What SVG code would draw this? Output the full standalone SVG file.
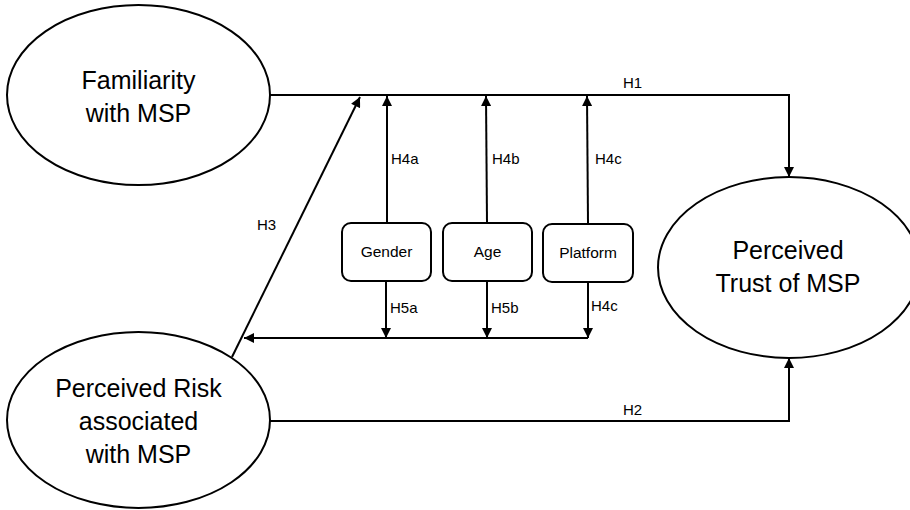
<svg xmlns="http://www.w3.org/2000/svg" width="910" height="510" viewBox="0 0 910 510">
<style>
  .shape { fill: #ffffff; stroke: #000000; stroke-width: 2; }
  .big { font-family: "Liberation Sans", Arial, sans-serif; font-size: 25px; fill: #000; text-anchor: middle; }
  .box { font-family: "Liberation Sans", Arial, sans-serif; font-size: 15.5px; fill: #000; text-anchor: middle; }
  .lbl { font-family: "Liberation Sans", Arial, sans-serif; font-size: 15px; fill: #000; }
  .conn { fill: none; stroke: #000; stroke-width: 2; }
</style>
<defs>
  <marker id="arr" viewBox="0 0 10 10" refX="10" refY="5" markerWidth="5.5" markerHeight="5" orient="auto" markerUnits="strokeWidth">
    <path d="M0,0 L10,5 L0,10 z" fill="#000"/>
  </marker>
</defs>
<rect width="910" height="510" fill="#ffffff"/>

<g id="connectors">
  <polyline class="conn" points="270,95 789,95 789,177" marker-end="url(#arr)"/>
  <polyline class="conn" points="270,421 789,421 789,358" marker-end="url(#arr)"/>
  <line class="conn" x1="232" y1="357" x2="360" y2="97" marker-end="url(#arr)"/>
  <line class="conn" x1="387" y1="223" x2="387" y2="96" marker-end="url(#arr)"/>
  <line class="conn" x1="487" y1="223" x2="486" y2="96" marker-end="url(#arr)"/>
  <line class="conn" x1="588" y1="223" x2="587" y2="96" marker-end="url(#arr)"/>
  <line class="conn" x1="386" y1="281" x2="386" y2="338" marker-end="url(#arr)"/>
  <line class="conn" x1="487" y1="281" x2="487" y2="338" marker-end="url(#arr)"/>
  <line class="conn" x1="588" y1="282" x2="588" y2="338" marker-end="url(#arr)"/>
  <line class="conn" x1="588" y1="338" x2="244" y2="338" marker-end="url(#arr)"/>
  <text class="lbl" x="623" y="88">H1</text>
  <text class="lbl" x="623" y="415">H2</text>
  <text class="lbl" x="257" y="230">H3</text>
  <text class="lbl" x="391" y="164">H4a</text>
  <text class="lbl" x="492" y="164">H4b</text>
  <text class="lbl" x="595" y="164">H4c</text>
  <text class="lbl" x="390" y="313">H5a</text>
  <text class="lbl" x="491" y="313">H5b</text>
  <text class="lbl" x="591" y="311">H4c</text>
</g>

<g id="familiarity">
  <ellipse class="shape" cx="138.5" cy="95" rx="131.5" ry="90"/>
  <text class="big" x="138.5" y="89">Familiarity</text>
  <text class="big" x="138.5" y="122">with MSP</text>
</g>

<g id="risk">
  <ellipse class="shape" cx="138.5" cy="420" rx="131.5" ry="88"/>
  <text class="big" x="138.5" y="397">Perceived Risk</text>
  <text class="big" x="138.5" y="430">associated</text>
  <text class="big" x="138.5" y="463">with MSP</text>
</g>

<g id="trust">
  <ellipse class="shape" cx="789" cy="267.5" rx="131" ry="90.5"/>
  <text class="big" x="788" y="259">Perceived</text>
  <text class="big" x="788" y="292">Trust of MSP</text>
</g>

<g id="gender">
  <rect class="shape" x="342" y="223" width="89" height="58" rx="9"/>
  <text class="box" x="386.5" y="257">Gender</text>
</g>

<g id="age">
  <rect class="shape" x="443" y="223" width="89" height="58" rx="9"/>
  <text class="box" x="487.5" y="257">Age</text>
</g>

<g id="platform">
  <rect class="shape" x="543" y="224" width="90" height="58" rx="9"/>
  <text class="box" x="588" y="258">Platform</text>
</g>
</svg>
